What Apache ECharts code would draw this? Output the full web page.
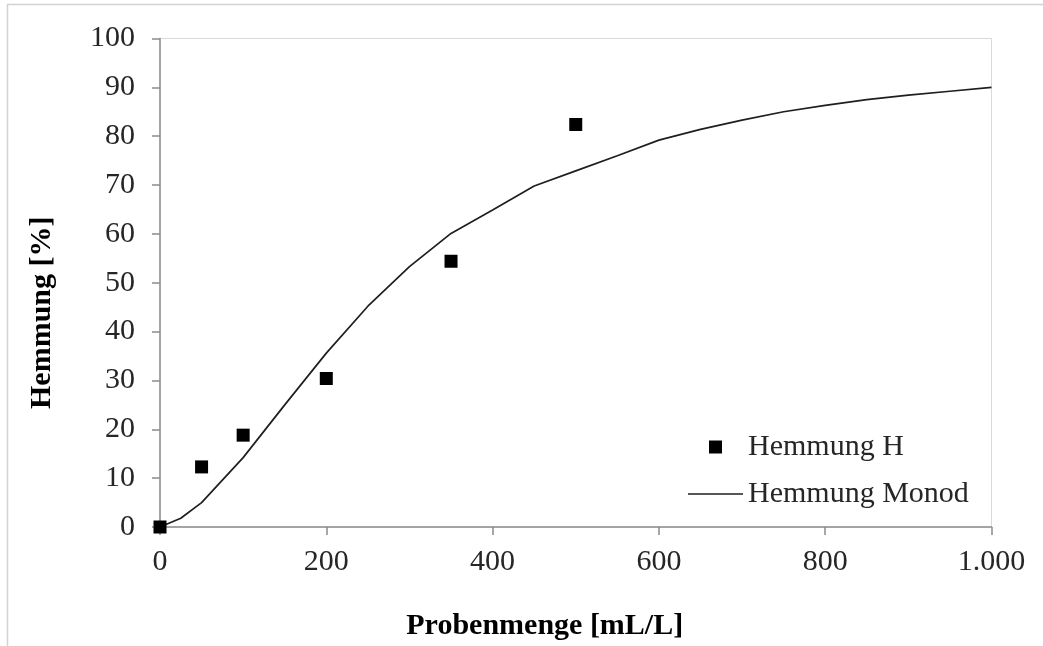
<!DOCTYPE html>
<html>
<head>
<meta charset="utf-8">
<style>
  html, body { margin: 0; padding: 0; background: #ffffff; }
  #chart { width: 1043px; height: 646px; }
</style>
<script src="https://cdn.jsdelivr.net/npm/echarts@6/dist/echarts.min.js"></script>
</head>
<body>
<div id="chart"></div>
<script>
// Measured inhibition (Hemmung H) at each sample dose
const probeMenge = [0, 50, 100, 200, 350, 500];
const hemmungH = [0, 12.3, 18.8, 30.4, 54.4, 82.4];

// Monod model curve
const monodX = [0, 25, 50, 100, 150, 200, 250, 300, 350, 400, 450, 500, 550, 600, 650, 700, 750, 800, 850, 900, 950, 1000];
const monodY = [0, 1.8, 5.0, 14.2, 25.0, 35.6, 45.2, 53.3, 60.1, 64.9, 69.8, 72.9, 76.0, 79.2, 81.4, 83.3, 85.0, 86.3, 87.5, 88.4, 89.2, 90.0];

// Axis ticks
const xTicks = { min: 0, max: 1000, interval: 200 };
const yTicks = { min: 0, max: 100, interval: 10 };

const serif = '"Liberation Serif", "DejaVu Serif", serif';

const chart = echarts.init(document.getElementById('chart'), null, { renderer: 'canvas' });

chart.setOption({
  backgroundColor: '#ffffff',
  animation: false,
  grid: {
    left: 160, right: 51.5, top: 38.5, bottom: 118,
    show: true, borderColor: '#d9d9d9', borderWidth: 1, backgroundColor: 'transparent'
  },
  graphic: [
    { type: 'line', shape: { x1: 7, y1: 4.5, x2: 1043, y2: 4.5 }, style: { stroke: '#d2d2d2', lineWidth: 1.5 }, silent: true },
    { type: 'line', shape: { x1: 7.5, y1: 4, x2: 7.5, y2: 646 }, style: { stroke: '#d2d2d2', lineWidth: 1.5 }, silent: true }
  ],
  legend: {
    orient: 'vertical',
    left: 688,
    top: 432,
    padding: 0,
    itemWidth: 55,
    itemHeight: 13,
    itemGap: 17,
    textStyle: { fontFamily: serif, fontSize: 30, color: '#262626', lineHeight: 30 },
    data: [
      { name: 'Hemmung H', icon: 'path://M0,0h1v1h-1z' },
      { name: 'Hemmung Monod', icon: 'path://M0,0h55v1.6h-55z' }
    ]
  },
  xAxis: {
    type: 'value',
    min: xTicks.min, max: xTicks.max, interval: xTicks.interval,
    name: 'Probenmenge [mL/L]',
    nameLocation: 'middle',
    nameGap: 84,
    nameTextStyle: { fontFamily: serif, fontSize: 30, fontWeight: 'bold', color: '#000000', padding: [0, 62, 0, 0] },
    axisLine: { show: true, onZero: false, lineStyle: { color: '#8c8c8c', width: 1.5 } },
    axisTick: { show: true, inside: false, length: 8, lineStyle: { color: '#8c8c8c', width: 1.5 } },
    axisLabel: {
      fontFamily: serif, fontSize: 30, color: '#262626', margin: 20,
      formatter: v => v >= 1000 ? (Math.floor(v / 1000) + '.' + String(v % 1000).padStart(3, '0')) : String(v)
    },
    splitLine: { show: false }
  },
  yAxis: {
    type: 'value',
    min: yTicks.min, max: yTicks.max, interval: yTicks.interval,
    name: 'Hemmung [%]',
    nameLocation: 'middle',
    nameGap: 103,
    nameRotate: 90,
    nameTextStyle: { fontFamily: serif, fontSize: 30, fontWeight: 'bold', color: '#000000', padding: [0, 60, 0, 0] },
    axisLine: { show: true, onZero: false, lineStyle: { color: '#8c8c8c', width: 1.5 } },
    axisTick: { show: true, inside: false, length: 8, lineStyle: { color: '#8c8c8c', width: 1.5 } },
    axisLabel: { fontFamily: serif, fontSize: 30, color: '#262626', margin: 25 },
    splitLine: { show: false }
  },
  series: [
    {
      name: 'Hemmung Monod',
      type: 'line',
      data: monodX.map((x, i) => [x, monodY[i]]),
      showSymbol: false,
      symbol: 'none',
      smooth: false,
      lineStyle: { color: '#1f1f1f', width: 1.7 },
      itemStyle: { color: '#1f1f1f' },
      z: 2
    },
    {
      name: 'Hemmung H',
      type: 'scatter',
      data: probeMenge.map((x, i) => [x, hemmungH[i]]),
      symbol: 'rect',
      symbolSize: 13,
      itemStyle: { color: '#000000', opacity: 1 },
      z: 3
    }
  ]
});
</script>
</body>
</html>
